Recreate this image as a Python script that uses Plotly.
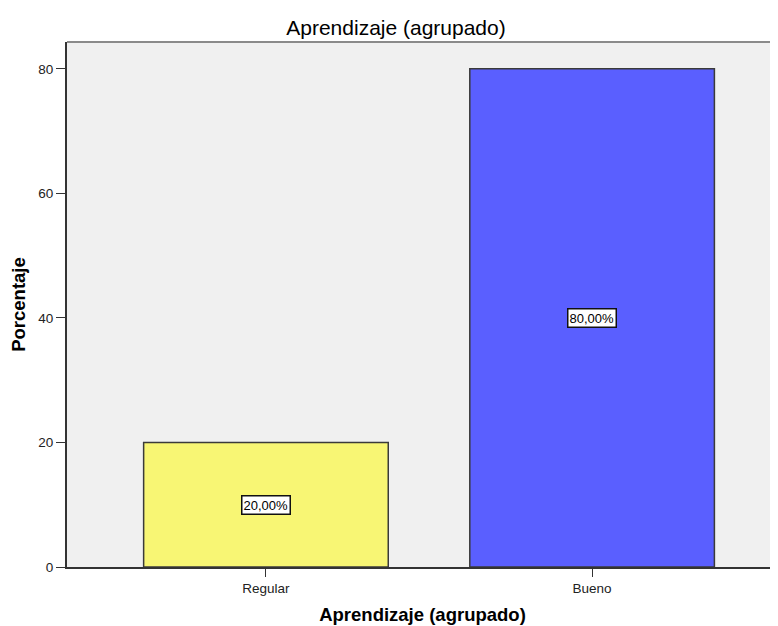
import plotly.graph_objects as go

categorias = ["Regular", "Bueno"]
porcentajes = [20.0, 80.0]
etiquetas = ["20,00%", "80,00%"]
colores = ["#F8F674", "#5A5FFF"]
y_ticks = [0, 20, 40, 60, 80]

fig = go.Figure()

fig.add_trace(
    go.Bar(
        x=[0, 1],
        y=porcentajes,
        width=0.75,
        marker=dict(color=colores, line=dict(color="#3a3a3a", width=1.5)),
        hoverinfo="skip",
    )
)

# etiquetas de porcentaje en el centro de cada barra
for i, (v, t) in enumerate(zip(porcentajes, etiquetas)):
    fig.add_annotation(
        x=i, y=v / 2, text=t, showarrow=False,
        font=dict(family="Liberation Sans, Arial", size=13, color="black"),
        bgcolor="white", bordercolor="#111", borderwidth=1.5, borderpad=1,
    )

# linea superior del marco
fig.add_shape(
    type="line", xref="paper", yref="paper", x0=0, x1=1, y0=1, y1=1,
    line=dict(color="#8a8a8a", width=2),
)

fig.update_layout(
    width=770,
    height=618,
    margin=dict(l=59, r=0, t=34, b=59),
    paper_bgcolor="white",
    plot_bgcolor="#F0F0F0",
    showlegend=False,
    title=dict(
        text="Aprendizaje (agrupado)",
        x=388 / 770, xanchor="center", y=1 - 20 / 618, yanchor="middle",
        font=dict(family="Liberation Sans, Arial", size=21, color="black"),
    ),
    font=dict(family="Liberation Sans, Arial", color="black"),
)

fig.update_xaxes(
    range=[-0.61, 1.57],
    tickvals=[0, 1],
    ticktext=categorias,
    ticks="outside",
    ticklen=8,
    tickcolor="#333",
    tickfont=dict(size=13.5, color="#222"),
    showline=True,
    linecolor="#333",
    linewidth=2,
    showgrid=False,
    zeroline=False,
    title=dict(
        text="<b>Aprendizaje (agrupado)</b>",
        font=dict(size=18.5),
        standoff=13,
    ),
)

fig.update_yaxes(
    range=[0, 84.3],
    tickvals=y_ticks,
    ticks="outside",
    ticklen=9,
    tickcolor="#333",
    tickfont=dict(size=13.5, color="#222"),
    showline=True,
    linecolor="#333",
    linewidth=2,
    showgrid=False,
    zeroline=False,
    title=dict(text="<b>Porcentaje</b>", font=dict(size=18.5), standoff=12),
)

fig.write_html("out.html")
